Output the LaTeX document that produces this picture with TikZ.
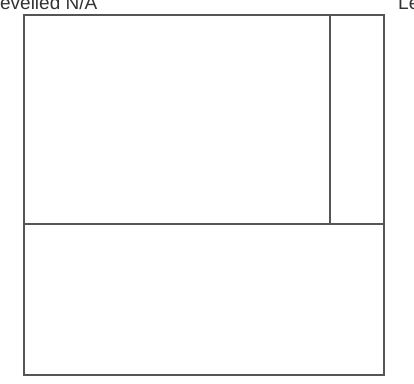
\documentclass[tikz,border=0pt]{standalone}
\usepackage{fontspec}
\setmainfont{Liberation Sans}
\usetikzlibrary{positioning}
\definecolor{cLine}{RGB}{85,85,85}
\definecolor{cText}{RGB}{51,51,51}
\tikzset{
    panel/.style={rectangle, draw=cLine, line width=1.2pt, outer sep=0pt, inner sep=0pt},
    tag/.style={font=\fontsize{19}{22}\selectfont, text=cText, inner sep=0pt},
}
\begin{document}
\begin{tikzpicture}[x=1pt, y=-1pt]
    \useasboundingbox (0,0) rectangle (414,383);
    \clip (0,0) rectangle (414,383);
    \node[panel, anchor=north west, minimum width=306pt, minimum height=209pt] (main) at (24,15) {};
    \node[panel, minimum width=54pt, minimum height=209pt, below right=0pt and 0pt of main.north east] (side) {};
    \node[panel, minimum width=360pt, minimum height=151pt, below right=0pt and 0pt of main.south west] (lower) {};
    \node[tag, anchor=base east] (lefttag) at (97.5,9.5) {Levelled N/A};
    \node[tag, anchor=base west] (righttag) at (398,9.5) {Levelled N/A};
\end{tikzpicture}
\end{document}
